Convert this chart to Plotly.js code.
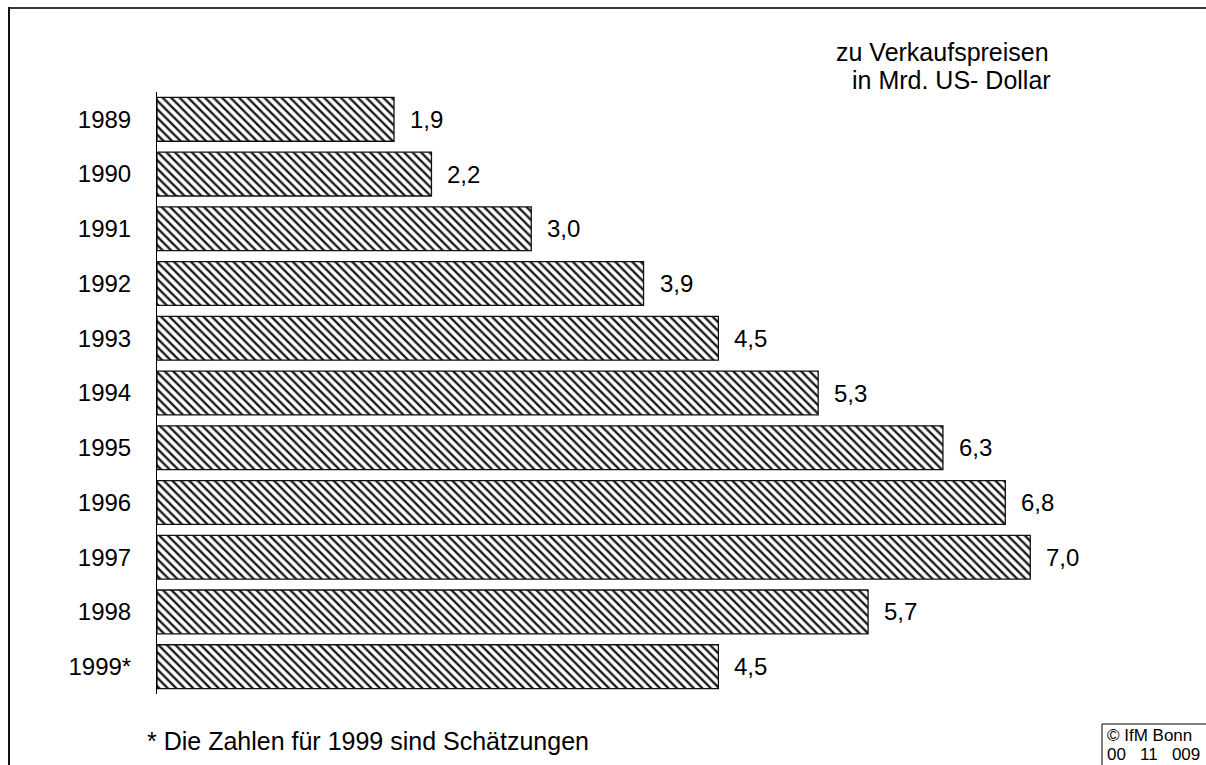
<!DOCTYPE html>
<html>
<head>
<meta charset="utf-8">
<script src="https://cdn.plot.ly/plotly-3.0.1.min.js"></script>
<style>
html,body{margin:0;padding:0;background:#fff;}
#chart{width:1206px;height:765px;}
</style>
</head>
<body>
<div id="chart"></div>
<script>
// Data
const years = ["1989","1990","1991","1992","1993","1994","1995","1996","1997","1998","1999*"];
const values = [1.9, 2.2, 3.0, 3.9, 4.5, 5.3, 6.3, 6.8, 7.0, 5.7, 4.5];
const unitLine1 = "zu Verkaufspreisen";
const unitLine2 = "in Mrd. US- Dollar";
const footnote = "* Die Zahlen für 1999 sind Schätzungen";
const creditLines = ["© IfM Bonn", "00   11   009"];

// Layout geometry (pixels)
const W = 1206, H = 765;
const mL = 157, mR = 51, mT = 92, mB = 71;
const pw = W - mL - mR, ph = H - mT - mB;
const px = x => (x - mL) / pw;
const py = y => 1 - (y - mT) / ph;

const font = "Arial, 'Liberation Sans', sans-serif";
const FS = 24;

const trace = {
  type: "bar",
  orientation: "h",
  y: years.map((_, i) => i),
  x: values,
  marker: {
    color: "#ffffff",
    line: {color: "#111111", width: 1.3},
    pattern: {shape: "\\", fgcolor: "#1a1a1a", bgcolor: "#ffffff", size: 6, solidity: 0.4}
  },
  hoverinfo: "skip",
  cliponaxis: false
};

const valueAnnotations = years.map((y, i) => ({
  x: values[i], y: i, xref: "x", yref: "y",
  text: values[i].toFixed(1).replace(".", ","),
  showarrow: false, xanchor: "left", xshift: 14,
  font: {family: font, size: FS, color: "#000"}
}));

const txt = (x, y, text, size, anchor) => ({
  xref: "paper", yref: "paper", x: px(x), y: py(y), xanchor: anchor || "left", yanchor: "middle",
  text: text, showarrow: false, font: {family: font, size: size, color: "#000"}
});

const layout = {
  width: W, height: H,
  margin: {l: mL, r: mR, t: mT, b: mB, pad: 0},
  paper_bgcolor: "#ffffff",
  plot_bgcolor: "#ffffff",
  showlegend: false,
  bargap: 0.2,
  xaxis: {range: [0, 8], visible: false, fixedrange: true},
  yaxis: {
    autorange: false,
    range: [years.length - 0.5, -0.5],
    tickmode: "array",
    tickvals: years.map((_, i) => i),
    ticktext: years,
    showline: true, linecolor: "#000", linewidth: 1,
    ticks: "", showgrid: false, zeroline: false,
    ticklabelstandoff: 20,
    tickfont: {family: font, size: FS, color: "#000"},
    fixedrange: true
  },
  annotations: valueAnnotations.concat([
    txt(834, 52, unitLine1, 25),
    txt(850, 80, unitLine2, 25),
    txt(145, 741, footnote, 25),
    txt(1105, 736, creditLines[0], 17),
    txt(1105, 754, creditLines[1], 17)
  ]),
  shapes: [
    {type: "line", xref: "paper", yref: "paper", x0: px(9), x1: px(1206), y0: py(8), y1: py(8),
     line: {color: "#3a3a3a", width: 2}, layer: "above"},
    {type: "line", xref: "paper", yref: "paper", x0: px(9), x1: px(9), y0: py(7), y1: py(765),
     line: {color: "#111", width: 2}, layer: "above"},
    {type: "line", xref: "paper", yref: "paper", x0: px(1102), x1: px(1206), y0: py(724), y1: py(724),
     line: {color: "#000", width: 1}, layer: "above"},
    {type: "line", xref: "paper", yref: "paper", x0: px(1102), x1: px(1102), y0: py(724), y1: py(765),
     line: {color: "#000", width: 1}, layer: "above"}
  ]
};

Plotly.newPlot("chart", [trace], layout, {staticPlot: true, displayModeBar: false});
</script>
</body>
</html>
